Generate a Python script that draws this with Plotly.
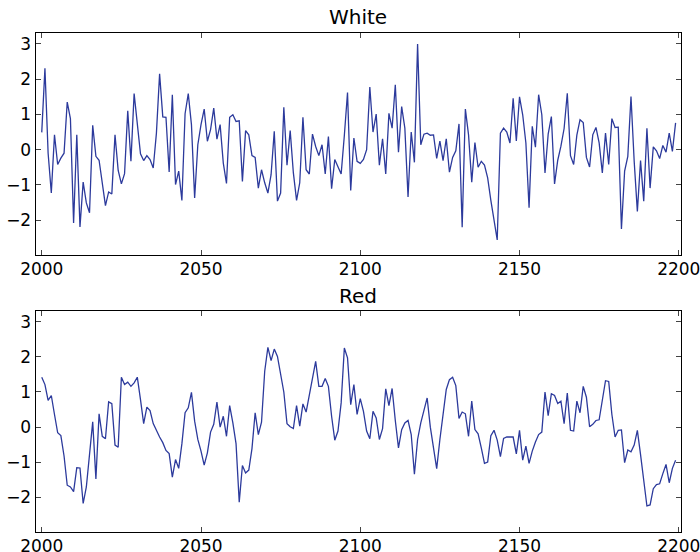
import plotly.graph_objects as go

years = list(range(2000, 2200))

white = [0.49, 2.31, -0.1, -1.23, 0.42, -0.42, -0.24, -0.1, 1.35, 0.88,
         -2.08, 0.42, -2.19, -0.92, -1.51, -1.79, 0.69, -0.19, -0.3, -0.94,
         -1.59, -1.2, -1.26, 0.42, -0.59, -0.97, -0.68, 1.1, -0.33, 1.59,
         0.71, -0.12, -0.31, -0.17, -0.28, -0.52, 0.47, 2.15, 0.93, 0.92,
         -0.63, 1.56, -0.99, -0.61, -1.44, 1.02, 1.59, 0.71, -1.37, 0.14,
         0.71, 1.15, 0.24, 0.57, 1.18, 0.3, 0.71, -0.38, -0.96, 0.92,
         0.99, 0.8, 0.82, -0.9, 0.54, 0.42, -0.17, -0.22, -1.09, -0.57,
         -0.94, -1.23, -0.71, 0.52, -1.46, -1.23, 1.2, -0.44, 0.54, -0.66,
         -1.44, -0.94, 0.92, -0.57, -0.69, 0.44, 0.09, -0.17, 0.14, -0.69,
         0.37, -1.11, -0.28, -0.5, -0.69, 0.4, 1.62, -1.16, 0.33, -0.33,
         -0.39, -0.28, 0.0, 1.78, 0.5, 1.01, -0.44, 0.31, -0.69, 1.03,
         0.61, 1.84, -0.07, 1.22, 0.61, -1.34, 0.5, -0.36, 3.0, 0.14,
         0.44, 0.47, 0.41, 0.42, -0.25, 0.24, -0.31, 0.31, -0.64, -0.22,
         -0.03, 0.73, -2.2, 1.15, 0.42, -0.92, 0.2, -0.5, -0.33, -0.44,
         -0.8, -1.44, -2.03, -2.56, 0.47, 0.61, 0.5, 0.19, 1.46, 0.25,
         1.5, 0.99, 0.19, -1.65, 0.66, 0.07, 1.56, 0.99, -0.66, 0.44,
         0.94, -0.97, -0.3, 0.1, 0.6, 1.6, -0.17, -0.42, 0.41, 0.85,
         0.77, -0.22, -0.49, 0.42, 0.63, 0.19, -0.66, 0.47, -0.42, 0.88,
         0.63, 0.64, -2.25, -0.61, -0.19, 1.51, -0.33, -1.75, -0.31, -1.46,
         0.61, -1.09, 0.08, -0.03, -0.25, 0.12, -0.07, 0.47, -0.05, 0.76]

red = [1.42, 1.21, 0.76, 0.9, 0.36, -0.16, -0.24, -0.82, -1.65, -1.7,
       -1.83, -1.15, -1.16, -2.17, -1.7, -0.79, 0.15, -1.47, 0.38, -0.26,
       -0.33, 0.72, 0.67, -0.51, -0.57, 1.42, 1.21, 1.28, 1.16, 1.26,
       1.42, 0.78, 0.1, 0.57, 0.47, 0.1, -0.11, -0.28, -0.44, -0.66,
       -0.75, -1.42, -0.92, -1.17, -0.47, 0.41, 0.55, 0.99, 0.17, -0.35,
       -0.68, -1.08, -0.73, -0.14, 0.08, 0.71, 0.0, 0.31, -0.26, 0.61,
       0.12, -0.47, -2.13, -1.09, -1.3, -1.22, -0.61, 0.41, -0.21, 0.14,
       1.59, 2.27, 1.89, 2.22, 2.01, 1.54, 1.0, 0.1, 0.01, -0.04,
       0.61, 0.03, 0.66, 0.43, 0.95, 1.42, 1.87, 1.16, 1.16, 1.38,
       1.16, 0.31, -0.37, -0.11, 0.69, 2.25, 1.97, 0.64, 1.21, 0.36,
       0.81, 0.45, -0.11, -0.33, 0.45, 0.26, -0.35, -0.04, 1.09, 0.61,
       1.1, 0.19, -0.59, -0.07, 0.12, 0.19, -0.21, -1.34, -0.35, 0.12,
       0.5, 0.83, 0.0, -0.59, -1.18, -0.35, 0.45, 1.07, 1.35, 1.42,
       1.18, 0.25, 0.43, 0.38, -0.26, 0.74, -0.07, -0.19, -0.59, -1.03,
       -0.99, -0.24, -0.09, -0.37, -0.84, -0.32, -0.28, -0.27, -0.28, -0.76,
       -0.09, -0.94, -0.54, -1.03, -0.68, -0.42, -0.21, -0.14, 1.0, 0.33,
       0.95, 0.9, 0.67, 0.74, 0.1, 0.97, -0.09, -0.11, 0.74, 0.41,
       1.16, 0.85, 0.01, 0.08, 0.19, 0.21, 0.76, 1.32, 1.3, 0.36,
       -0.28, -0.09, -0.08, -1.01, -0.65, -0.7, -0.51, -0.09, -0.78, -1.53,
       -2.24, -2.21, -1.75, -1.63, -1.61, -1.32, -1.06, -1.58, -1.17, -0.94]

titles = ["White", "Red"]
x_ticks = [2000, 2050, 2100, 2150, 2200]
y_ticks = [-3, -2, -1, 0, 1, 2, 3]

W, H = 700, 552
xdom = [35.7 / W, 681 / W]
ydom_top = [1 - 254.7 / H, 1 - 33 / H]
ydom_bot = [1 - 532 / H, 1 - 310.7 / H]

line_color = "rgb(44,58,156)"
font = dict(family="DejaVu Sans", size=17, color="black")

fig = go.Figure()
fig.add_trace(go.Scatter(x=years, y=white, mode="lines",
                         line=dict(color=line_color, width=1.3),
                         xaxis="x", yaxis="y", showlegend=False))
fig.add_trace(go.Scatter(x=years, y=red, mode="lines",
                         line=dict(color=line_color, width=1.3),
                         xaxis="x2", yaxis="y2", showlegend=False))

axis_common = dict(showline=True, linecolor="black", linewidth=1.2,
                   mirror="allticks", ticks="inside", ticklen=5,
                   tickcolor="#444", tickwidth=1, showgrid=False,
                   zeroline=False, tickfont=font, automargin=False,
                   ticklabeloverflow="allow")

fig.update_layout(
    width=W, height=H,
    margin=dict(l=0, r=0, t=0, b=0),
    paper_bgcolor="white", plot_bgcolor="white",
    xaxis=dict(domain=xdom, range=[1998.1, 2200.7], tickvals=x_ticks,
               anchor="y", ticklabelstandoff=-1, **axis_common),
    yaxis=dict(domain=ydom_top, range=[-2.98, 3.31], tickvals=y_ticks,
               anchor="x", ticklabelstandoff=0, **axis_common),
    xaxis2=dict(domain=xdom, range=[1998.1, 2200.7], tickvals=x_ticks,
                anchor="y2", ticklabelstandoff=-2, **axis_common),
    yaxis2=dict(domain=ydom_bot, range=[-2.98, 3.31], tickvals=y_ticks,
                anchor="x2", ticklabelstandoff=0, **axis_common),
    annotations=[
        dict(text=titles[0], x=(xdom[0] + xdom[1]) / 2, y=1 - 17.5 / H,
             xref="paper", yref="paper", showarrow=False,
             font=dict(family="DejaVu Sans", size=20, color="black"),
             xanchor="center", yanchor="middle"),
        dict(text=titles[1], x=(xdom[0] + xdom[1]) / 2, y=1 - 296 / H,
             xref="paper", yref="paper", showarrow=False,
             font=dict(family="DejaVu Sans", size=20, color="black"),
             xanchor="center", yanchor="middle"),
    ],
)

fig.write_html(
    "out.html",
    config={"displayModeBar": False},
    post_script="document.body.style.margin='0';document.body.style.padding='0';",
)
